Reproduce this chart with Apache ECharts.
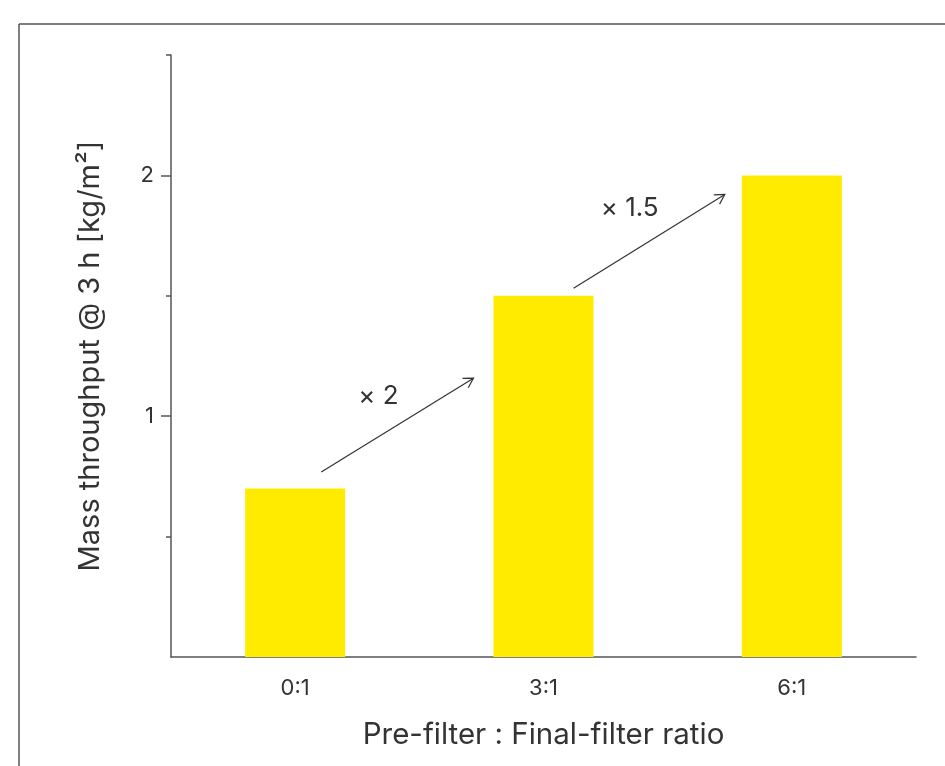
<!DOCTYPE html>
<html>
<head>
<meta charset="utf-8">
<script src="https://cdn.jsdelivr.net/npm/echarts@6/dist/echarts.min.js"></script>
<style>
html,body{margin:0;padding:0;background:#fff;}
#c{width:945px;height:766px;}
</style>
</head>
<body>
<div id="c"></div>
<script>
const categories = ['0:1', '3:1', '6:1'];
const throughput = [0.70, 1.50, 2.00];
const yLabelTicks = [1, 2];
const yMinorTicks = [0.5, 1.5, 2.5];
// annotations: [category position, value]
const annotationText = ['× 2', '× 1.5'];
const annotationAt = [[0.335, 1.083], [1.347, 1.863]];
const arrowFrom = [[0.105, 0.768], [1.121, 1.531]];
const arrowTo = [[0.718, 1.158], [1.730, 1.921]];

const FONT = 'Inter, "Noto Sans", sans-serif';
const TXT = '#333333';
const AX = '#555555';

const chart = echarts.init(document.getElementById('c'), null, {renderer: 'canvas'});
chart.setOption({
  animation: false,
  backgroundColor: '#ffffff',
  grid: {left: 171, right: 29, top: 55, bottom: 109, containLabel: false},
  xAxis: {
    type: 'category',
    data: categories,
    boundaryGap: true,
    axisLine: {lineStyle: {color: AX, width: 1.5}},
    axisTick: {alignWithLabel: true, length: 10, lineStyle: {color: AX, width: 1.5}},
    axisLabel: {color: TXT, fontSize: 22, fontFamily: FONT, margin: 20},
    name: 'Pre-filter : Final-filter ratio',
    nameLocation: 'middle',
    nameGap: 63,
    nameTextStyle: {color: TXT, fontSize: 29.5, fontFamily: FONT}
  },
  yAxis: [{
    type: 'value',
    min: 0, max: 2.5, interval: 0.5,
    axisLine: {show: true, lineStyle: {color: AX, width: 1.5}},
    axisTick: {show: true, length: 10, customValues: yLabelTicks, lineStyle: {color: AX, width: 1.5}},
    axisLabel: {color: TXT, fontSize: 22, fontFamily: FONT, margin: 17, customValues: yLabelTicks},
    splitLine: {show: false},
    name: 'Mass throughput @ 3 h [kg/m²]',
    nameLocation: 'middle',
    nameGap: 66,
    nameTextStyle: {color: TXT, fontSize: 29, fontFamily: FONT}
  }, {
    type: 'value',
    position: 'left',
    offset: 0,
    min: 0, max: 2.5, interval: 0.5,
    axisLine: {show: false},
    axisTick: {show: true, length: 5, customValues: yMinorTicks, lineStyle: {color: AX, width: 1.5}},
    axisLabel: {show: false},
    splitLine: {show: false}
  }],
  series: [{
    type: 'bar',
    data: throughput,
    barWidth: 100,
    itemStyle: {color: '#FFEB00'},
    silent: true
  }]
});

function toPx(p) {
  const c0 = chart.convertToPixel({xAxisIndex: 0}, 0);
  const c1 = chart.convertToPixel({xAxisIndex: 0}, 1);
  const x = c0 + p[0] * (c1 - c0);
  const y = chart.convertToPixel({yAxisIndex: 0}, p[1]);
  return [x, y];
}

const graphics = [
  {type: 'line', shape: {x1: 19, y1: 24, x2: 945, y2: 24}, style: {stroke: '#555', lineWidth: 1.5}},
  {type: 'line', shape: {x1: 19, y1: 24, x2: 19, y2: 766}, style: {stroke: '#555', lineWidth: 1.5}}
];
for (let i = 0; i < annotationText.length; i++) {
  const a = toPx(arrowFrom[i]);
  const b = toPx(arrowTo[i]);
  const ang = Math.atan2(b[1] - a[1], b[0] - a[0]);
  const L = 11, spread = Math.PI / 6;
  const h1 = [b[0] - L * Math.cos(ang - spread), b[1] - L * Math.sin(ang - spread)];
  const h2 = [b[0] - L * Math.cos(ang + spread), b[1] - L * Math.sin(ang + spread)];
  graphics.push({type: 'line', shape: {x1: a[0], y1: a[1], x2: b[0], y2: b[1]}, style: {stroke: '#333', lineWidth: 1.2}});
  graphics.push({type: 'polyline', shape: {points: [h1, b, h2]}, style: {stroke: '#333', lineWidth: 1.2, fill: null}});
  const t = toPx(annotationAt[i]);
  graphics.push({type: 'text', x: t[0], y: t[1], style: {text: annotationText[i], fill: TXT, font: '26px ' + FONT, textAlign: 'center', textVerticalAlign: 'middle'}});
}
chart.setOption({graphic: graphics});
</script>
</body>
</html>
